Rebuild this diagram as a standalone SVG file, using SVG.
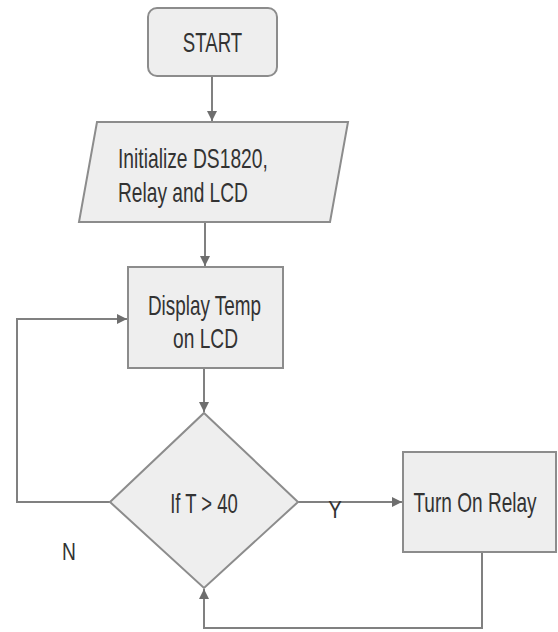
<svg xmlns="http://www.w3.org/2000/svg" width="558" height="632" viewBox="0 0 558 632">
<style>
.shape{fill:#eeeeee;stroke:#8c8c8c;stroke-width:2}
.lbl{font-family:"Liberation Sans",Arial,sans-serif;font-size:27px;fill:#333333}
.sm{font-family:"Liberation Sans",Arial,sans-serif;font-size:24px;fill:#333333}
.c{text-anchor:middle}
.conn{fill:none;stroke:#808080;stroke-width:2}
</style>
<defs>
<marker id="ah" viewBox="0 0 10 10" refX="10" refY="5" markerWidth="5" markerHeight="5" orient="auto" markerUnits="strokeWidth">
<path d="M0,0 L10,5 L0,10 z" fill="#6e6e6e"/>
</marker>
</defs>
<rect width="558" height="632" fill="#ffffff"/>
<g id="connectors">
<path class="conn" d="M212,76 L212,121" marker-end="url(#ah)"/>
<path class="conn" d="M205,222 L205,266" marker-end="url(#ah)"/>
<path class="conn" d="M204,368 L204,412" marker-end="url(#ah)"/>
<path class="conn" d="M298,502 L402,502" marker-end="url(#ah)"/>
<path class="conn" d="M110,502 L17,502 L17,319 L127,319" marker-end="url(#ah)"/>
<path class="conn" d="M482,552 L482,628 L204,628 L204,589" marker-end="url(#ah)"/>
<text class="sm c" transform="translate(335,518) scale(0.85,1)">Y</text>
<text class="sm c" transform="translate(69,560) scale(0.8,1)">N</text>
</g>
<g id="start">
<rect class="shape" x="148" y="8" width="129" height="68" rx="9"/>
<text class="lbl c" transform="translate(212.5,52) scale(0.69,1)">START</text>
</g>
<g id="init">
<polygon class="shape" points="97,122 348,122 330,222 79,222"/>
<text class="lbl" transform="translate(118,168) scale(0.714,1)">Initialize DS1820,</text>
<text class="lbl" transform="translate(118,202) scale(0.71,1)">Relay and LCD</text>
</g>
<g id="display">
<rect class="shape" x="128" y="267" width="155" height="101"/>
<text class="lbl c" transform="translate(204.5,315) scale(0.7,1)">Display Temp</text>
<text class="lbl c" transform="translate(205.5,348) scale(0.71,1)">on LCD</text>
</g>
<g id="decision">
<polygon class="shape" points="204,413 298,502 204,588 110,502"/>
<text class="lbl c" transform="translate(204,513) scale(0.685,1)">If T &gt; 40</text>
</g>
<g id="relay">
<rect class="shape" x="403" y="452" width="153" height="100"/>
<text class="lbl c" transform="translate(475,512) scale(0.706,1)">Turn On Relay</text>
</g>
</svg>
